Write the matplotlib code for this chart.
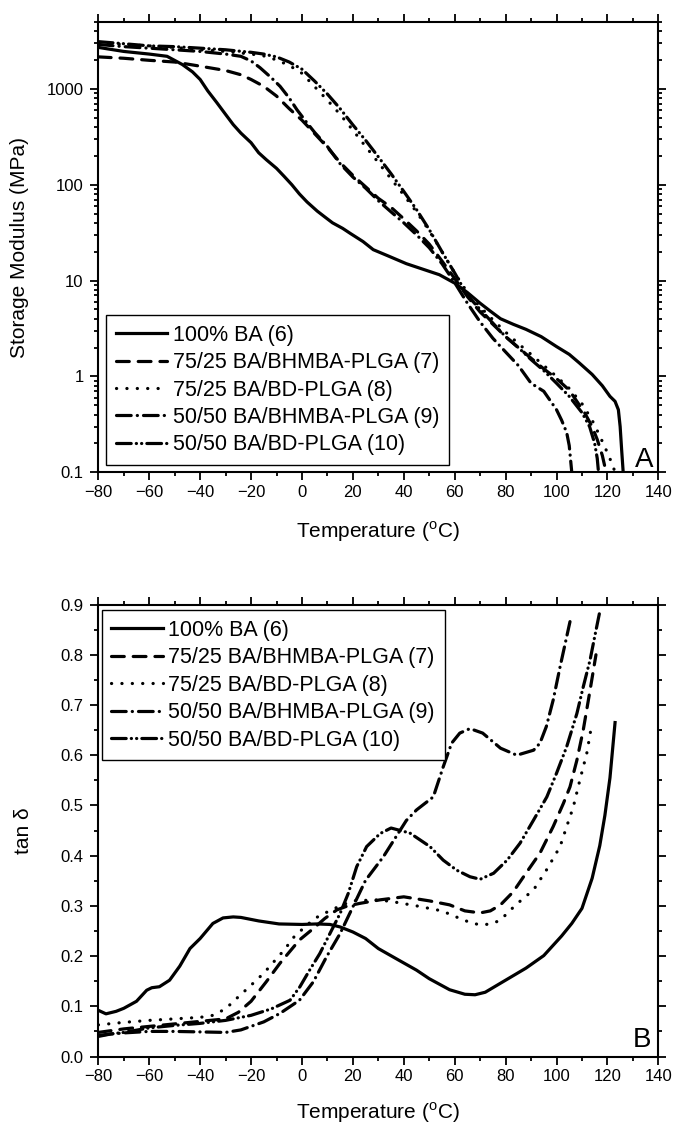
import numpy as np
import matplotlib
matplotlib.use('Agg')
import matplotlib.pyplot as plt
from matplotlib.ticker import MultipleLocator, LogLocator, NullFormatter

plt.rcParams['font.family'] = ['Liberation Sans', 'DejaVu Sans']
plt.rcParams['mathtext.fontset'] = 'custom'
plt.rcParams['mathtext.rm'] = 'Liberation Sans'

labels = ['100% BA (6)', '75/25 BA/BHMBA-PLGA (7)', '75/25 BA/BD-PLGA (8)',
          '50/50 BA/BHMBA-PLGA (9)', '50/50 BA/BD-PLGA (10)']

# ---- panel A: storage modulus (MPa) vs temperature (C)
t6 = [-80, -70, -60, -53, -47, -43, -40, -37, -33.5, -30, -27, -24, -20, -17, -14, -10, -7, -4, -1, 2,
      6, 9, 12, 16, 19, 24, 28, 34, 41, 48, 54, 60, 65, 70, 74, 78, 83, 88, 94, 100,
      105, 109, 114, 118, 121, 123, 124.3, 125, 125.6, 126.2]
e6 = [2700, 2450, 2300, 2180, 1790, 1500, 1250, 950, 720, 540, 423, 345, 274, 215, 182, 148, 122, 100, 80, 66,
      53, 46, 40, 35, 31, 25.5, 21, 18, 15, 13, 11.5, 9.4, 7.5, 5.8, 4.8, 4.0, 3.5, 3.1, 2.6, 2.05,
      1.7, 1.38, 1.05, 0.8, 0.62, 0.55, 0.45, 0.3, 0.17, 0.1]

t7 = [-80, -70, -60, -50, -40, -30, -24, -20, -15, -10, -5, 0, 5, 10, 15, 20, 25, 30, 35, 40,
      45, 50, 55, 60, 65, 70, 75, 80, 85, 90, 95, 100, 105, 108, 111, 114, 116, 118, 119.5]
e7 = [2150, 2080, 1980, 1900, 1720, 1550, 1400, 1250, 1060, 840, 620, 470, 340, 245, 170, 125, 95, 72, 58, 44,
      33, 24, 16, 10.5, 6.8, 4.7, 3.5, 2.6, 2.0, 1.55, 1.2, 0.95, 0.72, 0.55, 0.42, 0.3, 0.22, 0.15, 0.1]

t8 = [-80, -70, -60, -50, -40, -30, -20, -15, -10, -5, 0, 5, 10, 15, 20, 25, 30, 35, 40, 45,
      50, 55, 60, 65, 70, 75, 80, 85, 90, 95, 100, 105, 110, 114, 117, 120, 122, 123]
e8 = [3000, 2900, 2800, 2700, 2550, 2450, 2300, 2200, 2000, 1750, 1450, 1050, 760, 540, 370, 250, 170, 115, 78, 52,
      33, 20, 12, 7.5, 5.3, 3.9, 2.9, 2.2, 1.7, 1.3, 1.0, 0.75, 0.52, 0.35, 0.24, 0.16, 0.12, 0.1]

t9 = [-80, -70, -60, -50, -40, -30, -24, -20, -16.5, -12, -8.6, -5, -2, 2, 5, 10, 15, 20, 25, 30,
      35, 40, 45, 50, 55, 60, 65, 70, 75, 80, 85, 90, 95, 100, 102, 104, 105, 106]
e9 = [2900, 2750, 2650, 2550, 2450, 2300, 2180, 1950, 1660, 1300, 1060, 800, 606, 440, 350, 250, 165, 120, 92, 68,
      52, 40, 30, 22, 15, 9.5, 5.8, 3.7, 2.5, 1.8, 1.3, 0.85, 0.7, 0.45, 0.35, 0.26, 0.19, 0.1]

t10 = [-80, -70, -60, -50, -40, -30, -20, -15, -10, -5, 0, 5, 10, 15, 20, 25, 30, 35, 40, 45,
       50, 55, 60, 65, 70, 75, 80, 85, 90, 95, 100, 105, 110, 113, 115, 116, 116.5]
e10 = [3100, 2950, 2800, 2750, 2650, 2550, 2400, 2300, 2150, 1900, 1600, 1200, 880, 620, 420, 290, 195, 130, 85, 55,
       34, 20, 12, 7.0, 5.0, 3.6, 2.6, 2.0, 1.5, 1.15, 0.85, 0.62, 0.42, 0.3, 0.2, 0.14, 0.1]

# ---- panel B: tan delta vs temperature (C)
tb6 = [-80, -77, -73, -70, -65, -61, -59, -56, -52, -48, -44, -40, -35, -31, -27, -24, -17, -9, 0, 6,
       11, 15, 20, 25, 30, 38, 45, 50, 58, 64, 68, 72, 80, 88, 95, 102, 106, 110, 114, 117,
       119, 121, 123]
d6 = [0.092, 0.085, 0.09, 0.096, 0.11, 0.132, 0.137, 0.139, 0.152, 0.18, 0.215, 0.235, 0.265, 0.276, 0.278,
      0.277, 0.27, 0.264, 0.263, 0.264, 0.263, 0.258, 0.248, 0.235, 0.215, 0.192, 0.172, 0.155, 0.133, 0.124,
      0.123, 0.128, 0.152, 0.176, 0.201, 0.24, 0.265, 0.295, 0.355, 0.42, 0.48, 0.555, 0.665]

tb7 = [-80, -70, -60, -50, -40, -30, -25, -20, -14, -8.6, -1, 4.5, 9, 13.7, 18, 22.8, 30.7, 40, 50, 58,
       64, 70, 74, 78, 83, 88, 93.5, 98.7, 102.7, 105.3, 108, 110.5, 113.2, 115.5]
d7 = [0.048, 0.055, 0.06, 0.065, 0.07, 0.075, 0.088, 0.11, 0.149, 0.186, 0.232, 0.255, 0.275, 0.292, 0.3,
      0.305, 0.312, 0.318, 0.31, 0.302, 0.29, 0.286, 0.29, 0.302, 0.328, 0.365, 0.405, 0.458, 0.504, 0.537,
      0.59, 0.65, 0.73, 0.8]

tb8 = [-80, -70, -60, -50, -40, -35, -30, -25.6, -20, -15, -7, -3, 0.5, 5, 10, 15, 20, 30, 36, 45,
       55, 62, 67, 71, 75, 78, 84, 91, 96, 101.4, 104, 106.6, 109.2, 111.9, 113.8]
d8 = [0.063, 0.068, 0.072, 0.075, 0.078, 0.082, 0.095, 0.116, 0.142, 0.166, 0.212, 0.239, 0.255, 0.275, 0.288,
      0.3, 0.31, 0.312, 0.308, 0.3, 0.29, 0.275, 0.265, 0.262, 0.265, 0.272, 0.302, 0.332, 0.371, 0.418,
      0.458, 0.497, 0.551, 0.604, 0.66]

tb9 = [-80, -75, -70, -60, -50, -40, -30, -24, -15, -8.6, -1, 4.5, 9.7, 15, 20, 25, 32, 37, 41, 45,
       51.6, 55.5, 58.8, 62, 66, 71, 78, 84.4, 91, 93.5, 96, 98.7, 101.4, 104, 105.3]
d9 = [0.042, 0.045, 0.047, 0.05, 0.05, 0.049, 0.048, 0.053, 0.069, 0.086, 0.112, 0.149, 0.199, 0.245, 0.298,
      0.351, 0.398, 0.438, 0.47, 0.491, 0.517, 0.577, 0.624, 0.644, 0.653, 0.644, 0.614, 0.6, 0.61, 0.624,
      0.657, 0.71, 0.776, 0.836, 0.866]

tb10 = [-80, -75, -70, -60, -50, -40, -30, -20, -12, -4.7, -0.8, 3, 7, 11, 15, 18.2, 21.5, 25.4, 30.7, 35,
        42.4, 50.3, 55.5, 60.8, 66, 70, 75.3, 80.6, 85.7, 91, 96.2, 100, 104, 108, 110.5, 113.2, 115, 117]
d10 = [0.04, 0.045, 0.048, 0.057, 0.062, 0.066, 0.072, 0.082, 0.095, 0.112, 0.139, 0.172, 0.205, 0.245, 0.285,
       0.325, 0.378, 0.418, 0.444, 0.455, 0.445, 0.418, 0.391, 0.371, 0.358, 0.353, 0.365, 0.391, 0.425, 0.471,
       0.517, 0.564, 0.617, 0.683, 0.736, 0.79, 0.836, 0.886]

# line dash patterns (in linewidth units)
styles = [None, (4.0, 2.8), (0.05, 3.2), (4.6, 1.9, 0.05, 1.9), (4.6, 1.6, 0.05, 1.6, 0.05, 1.6)]
lw = 2.3


def style_axes(ax):
    for s in ax.spines.values():
        s.set_linewidth(1.5)
    ax.set_xlim(-80, 140)
    ax.xaxis.set_major_locator(MultipleLocator(20))
    ax.xaxis.set_minor_locator(MultipleLocator(10))
    ax.tick_params(which='both', direction='out', top=True, right=True, width=1.3,
                   labelsize=12, colors='black')
    ax.tick_params(which='major', length=6)
    ax.tick_params(which='minor', length=3.2)
    ax.tick_params(axis='x', pad=3)
    ax.tick_params(axis='y', pad=4.5)


def draw(ax, xs, ys):
    for x, y, ds, lab in zip(xs, ys, styles, labels):
        if ds is None:
            ax.plot(x, y, color='black', lw=lw, label=lab, solid_joinstyle='round')
        else:
            ax.plot(x, y, color='black', lw=lw, dashes=ds, dash_capstyle='round', label=lab)


def add_legend(ax, loc, anchor):
    leg = ax.legend(loc=loc, bbox_to_anchor=anchor, borderaxespad=0, fontsize=15.5,
                    handlelength=2.4, handletextpad=0.25, labelspacing=0.3, borderpad=0.45,
                    fancybox=False, edgecolor='black', framealpha=1)
    leg.get_frame().set_linewidth(1.0)
    return leg


fig = plt.figure(figsize=(6.73, 11.26), dpi=100)

ax1 = fig.add_axes([0.1461, 0.5805, 0.8321, 0.4002])
draw(ax1, [t6, t7, t8, t9, t10], [e6, e7, e8, e9, e10])
ax1.set_yscale('log')
ax1.set_ylim(0.1, 5000)
style_axes(ax1)
ax1.set_yticks([0.1, 1, 10, 100, 1000], labels=['0.1', '1', '10', '100', '1000'])
ax1.yaxis.set_minor_locator(LogLocator(base=10, subs=np.arange(2, 10), numticks=20))
ax1.yaxis.set_minor_formatter(NullFormatter())
ax1.set_ylabel('Storage Modulus (MPa)', fontsize=15, va='center')
ax1.yaxis.set_label_coords(-0.1416, 0.5)
ax1.set_xlabel(r'Temperature ($^{\rm o}$C)', fontsize=15, va='center')
ax1.xaxis.set_label_coords(0.5, -0.132)
ax1.text(0.9905, 0.0126, 'A', transform=ax1.transAxes, ha='right', va='baseline', fontsize=20)
add_legend(ax1, 'lower left', (0.0138, 0.016))

ax2 = fig.add_axes([0.1461, 0.0617, 0.8321, 0.4014])
draw(ax2, [tb6, tb7, tb8, tb9, tb10], [d6, d7, d8, d9, d10])
ax2.set_ylim(0, 0.9)
style_axes(ax2)
ax2.yaxis.set_major_locator(MultipleLocator(0.1))
ax2.yaxis.set_minor_locator(MultipleLocator(0.05))
ax2.yaxis.set_major_formatter(lambda v, p: '%.1f' % v)
ax2.set_ylabel(r'tan δ', fontsize=15, va='center')
ax2.yaxis.set_label_coords(-0.1345, 0.5)
ax2.set_xlabel(r'Temperature ($^{\rm o}$C)', fontsize=15, va='center')
ax2.xaxis.set_label_coords(0.5, -0.125)
ax2.text(0.988, 0.0217, 'B', transform=ax2.transAxes, ha='right', va='baseline', fontsize=20)
add_legend(ax2, 'upper left', (0.006, 0.9878))

fig.savefig('out.png', dpi=100, facecolor='white')
